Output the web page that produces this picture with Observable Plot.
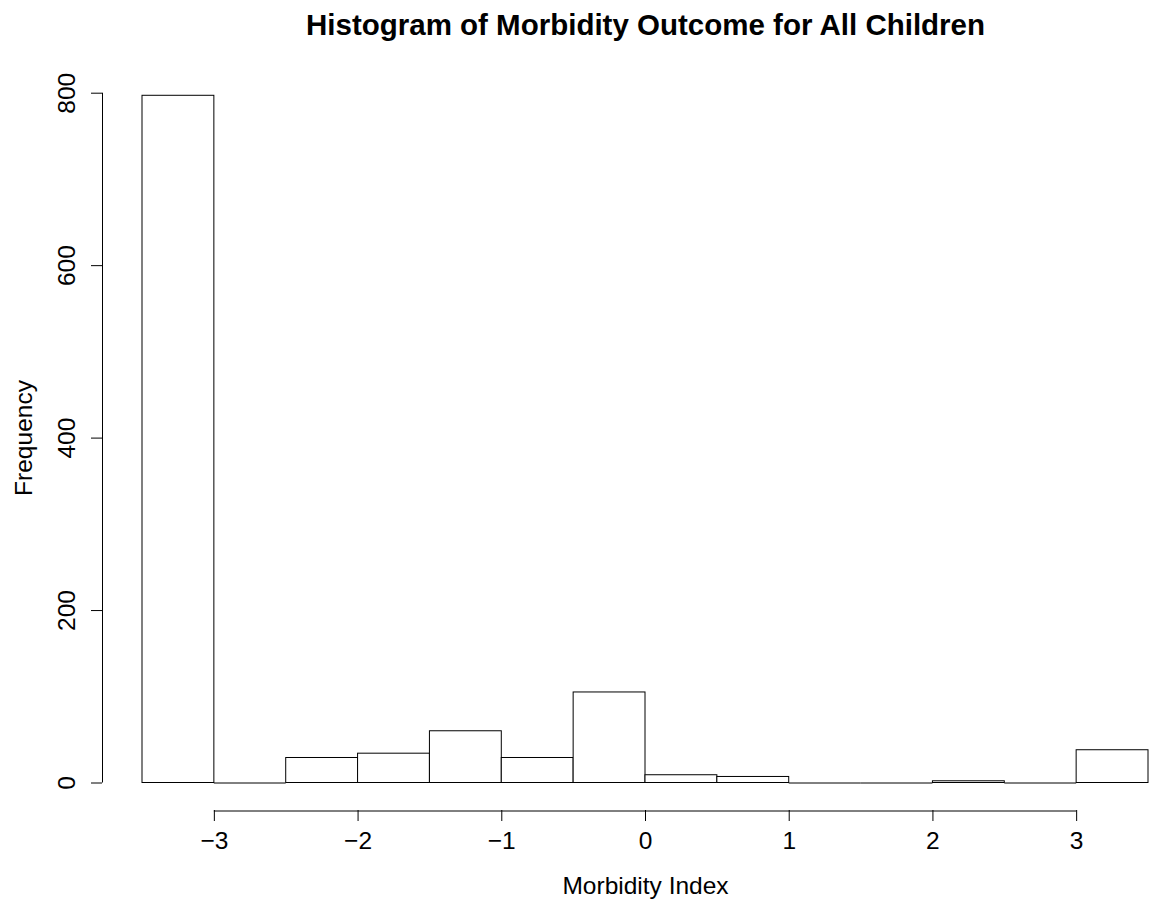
<!DOCTYPE html>
<html>
<head>
<meta charset="utf-8">
<script src="https://cdn.jsdelivr.net/npm/d3@7"></script>
<script src="https://cdn.jsdelivr.net/npm/@observablehq/plot@0.6"></script>
<style>
  html, body { margin: 0; padding: 0; background: #fff; }
</style>
</head>
<body>
<div id="chart"></div>
<script>
const binStart = [-3.5, -3.0, -2.5, -2.0, -1.5, -1.0, -0.5, 0.0, 0.5, 1.0, 1.5, 2.0, 2.5, 3.0];
const binEnd   = [-3.0, -2.5, -2.0, -1.5, -1.0, -0.5, 0.0, 0.5, 1.0, 1.5, 2.0, 2.5, 3.0, 3.5];
const counts   = [797, 0, 29, 34, 60, 29, 105, 9, 7, 0, 0, 2, 0, 38];
const xTicks = [-3, -2, -1, 0, 1, 2, 3];
const yTicks = [0, 200, 400, 600, 800];
const title = "Histogram of Morbidity Outcome for All Children";
const xLabel = "Morbidity Index";
const yLabel = "Frequency";

const bins = binStart.map((s, i) => ({x1: s, x2: binEnd[i], count: counts[i]}));
const font = "'Liberation Sans', Arial, Helvetica, sans-serif";
const fs = 24.5;

const chart = Plot.plot({
  width: 1152,
  height: 905,
  marginLeft: 102,
  marginRight: 0,
  marginTop: 65,
  marginBottom: 95,
  style: {fontFamily: font, fontSize: fs + "px", background: "#fff", color: "#000"},
  x: {domain: [-3.5, 3.5], range: [142, 1148]},
  y: {domain: [0, 800], range: [782.5, 92.7]},
  marks: [
    Plot.rectY(bins, {x1: "x1", x2: "x2", y: "count", fill: "#fff", stroke: "#000", strokeWidth: 1}),
    Plot.ruleY(bins, {filter: d => d.count === 0, x1: "x1", x2: "x2", y: "count", stroke: "#000", strokeWidth: 1}),
    Plot.axisX(xTicks, {anchor: "bottom", tickSize: 11, tickPadding: 10, fontSize: fs, label: null, stroke: "#000",
      tickFormat: d3.format("d")}),
    Plot.ruleY([0], {x1: xTicks[0], x2: xTicks[xTicks.length - 1], dy: 28, stroke: "#000"}),
    Plot.axisY(yTicks, {anchor: "left", tickSize: 11, tickFormat: () => "", label: null, stroke: "#000"}),
    Plot.ruleX([binStart[0]], {y1: yTicks[0], y2: yTicks[yTicks.length - 1], dx: -40, stroke: "#000"}),
    Plot.text(yTicks, {y: d => d, text: d => String(d), frameAnchor: "left", dx: -35, rotate: -90,
      textAnchor: "middle", lineAnchor: "middle", fontSize: fs, fill: "#000"}),
    Plot.text([title], {frameAnchor: "top", dx: 18, dy: -31, lineAnchor: "bottom",
      fontSize: 29.5, fontWeight: "bold", fill: "#000"}),
    Plot.text([xLabel], {frameAnchor: "bottom", dx: 18, dy: 83, lineAnchor: "bottom",
      fontSize: fs, fill: "#000"}),
    Plot.text([yLabel], {frameAnchor: "left", dx: -78, rotate: -90, lineAnchor: "middle",
      textAnchor: "middle", fontSize: fs, fill: "#000"})
  ]
});
document.getElementById("chart").appendChild(chart);
</script>
</body>
</html>
